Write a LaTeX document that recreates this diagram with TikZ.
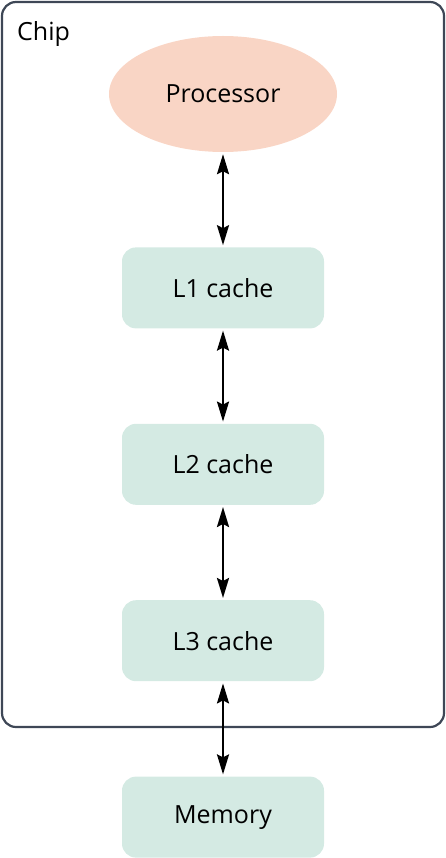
\documentclass[tikz,border=0pt]{standalone}
\usepackage{fontspec}
\setmainfont{Open Sans}
\usetikzlibrary{positioning, arrows.meta, shapes.geometric}

\definecolor{procfill}{HTML}{F9D5C5}
\definecolor{cachefill}{HTML}{D4EAE3}
\definecolor{chipline}{HTML}{3E4756}

\begin{document}
\begin{tikzpicture}[x=1pt, y=-1pt,
    node distance=95pt,
    every node/.style={font=\fontsize{25}{30}\selectfont},
    cachebox/.style={rectangle, rounded corners=14pt, fill=cachefill, minimum width=202pt, minimum height=81pt, inner sep=0pt},
    link/.style={{Stealth[length=20pt, width=12pt, inset=3pt]}-{Stealth[length=20pt, width=12pt, inset=3pt]}, line width=2.4pt, shorten <=2pt, shorten >=2pt}]

        \useasboundingbox (0, 0) rectangle (446, 858);

        % chip outline
        \draw[chipline, line width=2.2pt, rounded corners=14pt] (2, 2) rectangle (444, 727);
        \node[anchor=west, inner sep=0pt] (chiplabel) at (17, 34) {Chip};

        \node[ellipse, fill=procfill, minimum width=228pt, minimum height=116pt, inner sep=0pt] (proc) at (223, 94) {Processor};
        \node[cachebox, below=of proc] (l1) {L1 cache};
        \node[cachebox, below=of l1] (l2) {L2 cache};
        \node[cachebox, below=of l2] (l3) {L3 cache};
        \node[cachebox, below=of l3] (mem) {Memory};

        \draw[link] (proc) -- (l1);
        \draw[link] (l1) -- (l2);
        \draw[link] (l2) -- (l3);
        \draw[link] (l3) -- (mem);
      \end{tikzpicture}
\end{document}
